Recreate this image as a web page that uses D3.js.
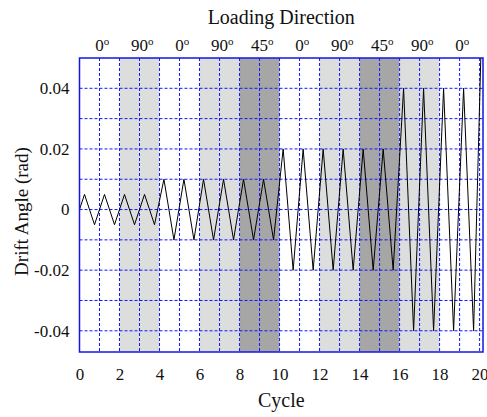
<!DOCTYPE html>
<html>
<head>
<meta charset="utf-8">
<script src="https://cdn.jsdelivr.net/npm/d3@7"></script>
<style>
  body { margin: 0; background: #fff; }
  text { font-family: "Liberation Serif", "Times New Roman", serif; fill: #111; }
</style>
</head>
<body>
<div id="chart"></div>
<script>
// cycle positions of the peaks / troughs and the drift angle there
const cycles = [0, 0.25, 0.75, 1.25, 1.75, 2.25, 2.75, 3.25, 3.75,
  4.22, 4.72, 5.22, 5.72, 6.2, 6.7, 7.2, 7.7, 8.2, 8.7, 9.2, 9.7,
  10.18, 10.68, 11.18, 11.68, 12.18, 12.68, 13.18, 13.68, 14.18, 14.68, 15.18, 15.68,
  16.2, 16.7, 17.2, 17.7, 18.2, 18.7, 19.2, 19.7, 20.1];
const drift = [0, 0.005, -0.005, 0.005, -0.005, 0.005, -0.005, 0.005, -0.005,
  0.01, -0.01, 0.01, -0.01, 0.01, -0.01, 0.01, -0.01, 0.01, -0.01, 0.01, -0.01,
  0.02, -0.02, 0.02, -0.02, 0.02, -0.02, 0.02, -0.02, 0.02, -0.02, 0.02, -0.02,
  0.04, -0.04, 0.04, -0.04, 0.04, -0.04, 0.04, -0.04, 0.06];

// shaded loading-direction bands
const bandStart = [2, 6, 8, 12, 14, 16];
const bandEnd   = [4, 8, 10, 14, 16, 18];
const bandTone  = ["light", "light", "dark", "light", "dark", "light"];

// direction labels along the top
const dirCycle = [1, 3, 5, 7, 9, 11, 13, 15, 17, 19];
const dirAngle = ["0", "90", "0", "90", "45", "0", "90", "45", "90", "0"];

const xTicks = [0, 2, 4, 6, 8, 10, 12, 14, 16, 18, 20];
const yTicks = [-0.04, -0.02, 0, 0.02, 0.04];

const margin = {top: 58, right: 4, bottom: 65, left: 79.5};
const width = 487 - margin.left - margin.right;
const height = 417 - margin.top - margin.bottom;

const svg = d3.select("#chart").append("svg")
    .attr("width", 487)
    .attr("height", 417)
  .append("g")
    .attr("transform", "translate(" + margin.left + "," + margin.top + ")");

const x = d3.scaleLinear().domain([0, 20.17]).range([0, width]);
const y = d3.scaleLinear().domain([-0.047, 0.05]).range([height, 0]);

svg.append("clipPath").attr("id", "clip")
  .append("rect").attr("width", width).attr("height", height);

// bands
svg.selectAll(".band")
  .data(bandStart)
  .join("rect")
    .attr("class", "band")
    .attr("x", d => x(d))
    .attr("y", 0)
    .attr("width", (d, i) => x(bandEnd[i]) - x(d))
    .attr("height", height)
    .attr("fill", (d, i) => bandTone[i] == "dark" ? "#a6a6a6" : "#dcdddd");

// grid
const gridX = d3.range(1, 21);
const gridY = d3.range(-4, 5).map(d => d / 100);

svg.selectAll(".gx")
  .data(gridX)
  .join("line")
    .attr("class", "gx")
    .attr("x1", d => x(d)).attr("x2", d => x(d))
    .attr("y1", 0).attr("y2", height)
    .attr("stroke", "#1414ff")
    .attr("stroke-width", 1)
    .attr("stroke-dasharray", "3,2");

svg.selectAll(".gy")
  .data(gridY)
  .join("line")
    .attr("class", "gy")
    .attr("x1", 0).attr("x2", width)
    .attr("y1", d => y(d)).attr("y2", d => y(d))
    .attr("stroke", "#1414ff")
    .attr("stroke-width", 1)
    .attr("stroke-dasharray", "3,2");

// drift history
const pts = cycles.map((c, i) => [c, drift[i]]);
svg.append("path")
  .datum(pts)
  .attr("clip-path", "url(#clip)")
  .attr("fill", "none")
  .attr("stroke", "#000")
  .attr("stroke-width", 1)
  .attr("d", d3.line().x(d => x(d[0])).y(d => y(d[1])));

// frame
svg.append("rect")
  .attr("width", width).attr("height", height)
  .attr("fill", "none")
  .attr("stroke", "#1414e6")
  .attr("stroke-width", 1.5);

// axes (labels only)
const xAxis = d3.axisBottom(x).tickValues(xTicks).tickSize(0).tickPadding(16).tickFormat(d3.format("d"));
const xAxisG = svg.append("g")
  .attr("class", "axis x-axis")
  .attr("transform", "translate(0," + height + ")")
  .call(xAxis);

const yAxis = d3.axisLeft(y).tickValues(yTicks).tickSize(0).tickPadding(10)
  .tickFormat(d => d == 0 ? "0" : d3.format(".2f")(d).replace("\u2212", "-"));
const yAxisG = svg.append("g")
  .attr("class", "axis y-axis")
  .call(yAxis);

svg.selectAll(".axis path").remove();
svg.selectAll(".axis text")
  .style("font-family", "'Liberation Serif', serif")
  .style("font-size", "17px")
  .attr("fill", "#111");

// top direction labels
const dir = svg.selectAll(".dir")
  .data(dirCycle)
  .join("g")
    .attr("class", "dir")
    .attr("transform", d => "translate(" + x(d) + ",-7)");

dir.append("text")
  .attr("text-anchor", "middle")
  .style("font-size", "17px")
  .text((d, i) => dirAngle[i]);

dir.append("text")
  .attr("x", function(d, i) { return this.parentNode.querySelector("text").getComputedTextLength() / 2; })
  .attr("y", -6)
  .style("font-size", "11px")
  .text("o");

// titles
svg.append("text")
  .attr("x", width / 2)
  .attr("y", -34)
  .attr("text-anchor", "middle")
  .style("font-size", "20px")
  .text("Loading Direction");

svg.append("text")
  .attr("x", width / 2)
  .attr("y", height + 55)
  .attr("text-anchor", "middle")
  .style("font-size", "20px")
  .text("Cycle");

svg.append("text")
  .attr("transform", "rotate(-90)")
  .attr("x", -(y(0) + 2))
  .attr("y", -margin.left + 28)
  .attr("text-anchor", "middle")
  .style("font-size", "19px")
  .text("Drift Angle (rad)");
</script>
</body>
</html>
